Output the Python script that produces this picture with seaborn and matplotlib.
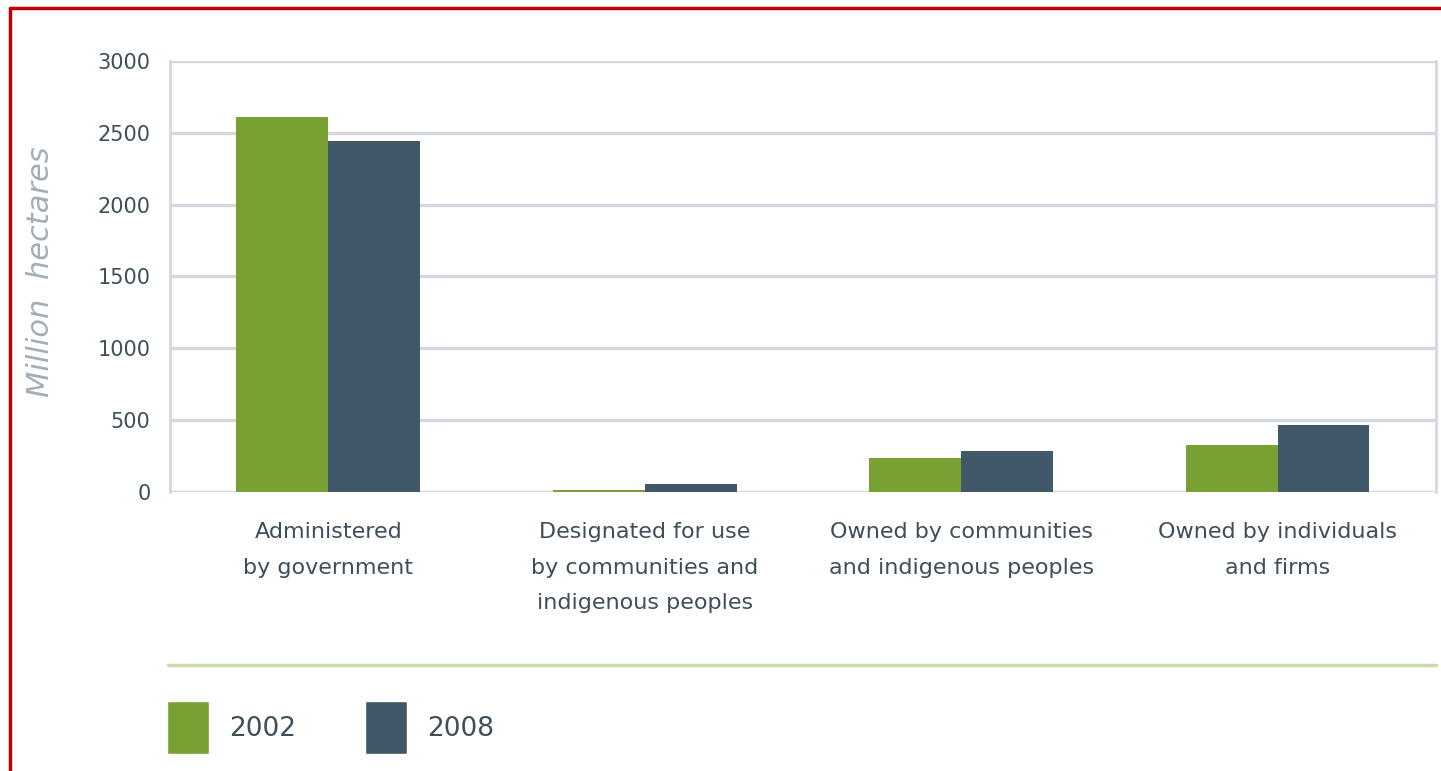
import pandas as pd
import matplotlib.pyplot as plt
import seaborn as sns
from matplotlib.lines import Line2D
from matplotlib.patches import Patch

categories = [
    "Administered\nby government",
    "Designated for use\nby communities and\nindigenous peoples",
    "Owned by communities\nand indigenous peoples",
    "Owned by individuals\nand firms",
]
years = ["2002", "2008"]
values_2002 = [2610, 15, 235, 325]
values_2008 = [2440, 55, 283, 464]
y_ticks = [0, 500, 1000, 1500, 2000, 2500, 3000]

green = "#78a032"
slate = "#415869"
text_col = "#3e4e5a"
grid_col = "#d3d9de"

df = pd.DataFrame({
    "category": categories * 2,
    "value": values_2002 + values_2008,
    "year": [years[0]] * 4 + [years[1]] * 4,
})

sns.set_style("white")
plt.rcParams["font.family"] = ["Liberation Sans Narrow", "DejaVu Sans"]

fig = plt.figure(figsize=(14.41, 7.71), dpi=100)
ax = fig.add_axes([0.118, 0.362, 0.8785, 0.559])

sns.barplot(data=df, x="category", y="value", hue="year",
            palette=[green, slate], saturation=1, width=0.58,
            linewidth=0, legend=False, ax=ax, zorder=3)

ax.set_xlim(-0.5, 3.5)
ax.set_ylim(0, 3000)
ax.set_yticks(y_ticks)
ax.set_yticklabels([str(t) for t in y_ticks])
ax.yaxis.grid(True, color=grid_col, linewidth=2.5, zorder=0)
ax.set_axisbelow(True)

for side in ["top", "bottom"]:
    ax.spines[side].set_visible(False)
for side in ["left", "right"]:
    ax.spines[side].set_color(grid_col)
    ax.spines[side].set_linewidth(2)

ax.tick_params(axis="y", length=0, pad=14, labelsize=15, labelcolor=text_col)
ax.tick_params(axis="x", length=0, pad=22, labelsize=16, labelcolor=text_col)
for lbl in ax.get_xticklabels():
    lbl.set_linespacing(1.95)
    lbl.set_verticalalignment("top")

ax.set_xlabel("")
ax.set_ylabel("Million  hectares", fontsize=22, style="italic", color="#a3aeb6",
              family=["DejaVu Sans"])
ax.yaxis.set_label_coords(-0.091, 0.51)

# separator line and legend
fig.add_artist(Line2D([0.1166, 0.9965], [0.1375, 0.1375], color="#c8dbac",
                      linewidth=2.5, transform=fig.transFigure))
handles = [Patch(facecolor=green), Patch(facecolor=slate)]
fig.legend(handles, years, loc="upper left", bbox_to_anchor=(0.116, 0.091),
           ncol=2, frameon=False, fontsize=19, labelcolor=text_col,
           handlelength=1.6, handleheight=2.75, handletextpad=0.75,
           columnspacing=2.6, borderaxespad=0, borderpad=0)

# red frame (top and left)
fig.add_artist(Line2D([0.0066, 1.0], [0.9896, 0.9896], color="#c40000",
                      linewidth=2.5, transform=fig.transFigure))
fig.add_artist(Line2D([0.0066, 0.0066], [0.0, 0.9896], color="#c40000",
                      linewidth=2.5, transform=fig.transFigure))

fig.savefig("out.png", dpi=100)
